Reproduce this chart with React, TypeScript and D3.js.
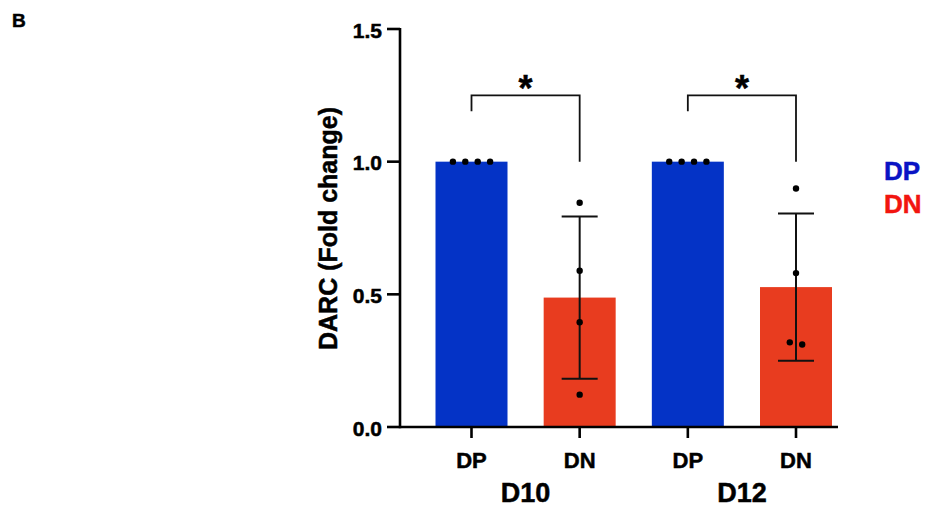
import React from "react";
import * as d3 from "d3";

const categories = ["D10-DP", "D10-DN", "D12-DP", "D12-DN"];
const tickLabels = ["DP", "DN", "DP", "DN"];
const groupLabels = ["D10", "D12"];
const groupIndex = [0, 0, 1, 1];
const cellType = ["DP", "DN", "DP", "DN"];
const points: number[][] = [
  [1.0, 1.0, 1.0, 1.0],
  [0.845, 0.589, 0.395, 0.122],
  [1.0, 1.0, 1.0, 1.0],
  [0.899, 0.58, 0.311, 0.319],
];
const showError = [false, true, false, true];
const yTicks = [0, 0.5, 1.0, 1.5];
const comparisons: [number, number, string][] = [
  [0, 1, "*"],
  [2, 3, "*"],
];
const legendItems = ["DP", "DN"];

const W = 932;
const H = 510;
const FONT = "'Liberation Sans', Arial, Helvetica, sans-serif";
const barColor: Record<string, string> = { DP: "#0433c6", DN: "#e83c1f" };
const legendColor: Record<string, string> = { DP: "#0a14c4", DN: "#f2150f" };

export default function App() {
  const y = d3.scaleLinear().domain([0, 1.5]).range([427, 29]);
  const x = d3.scalePoint<string>().domain(categories).range([471.5, 796]);
  const barW = 72;
  const axisX = 400;
  const axisEnd = 838;
  const dotR = 3.2;
  const spread = 12.4;

  const stats = points.map((p) => ({
    mean: d3.mean(p) as number,
    sd: d3.deviation(p) as number,
  }));

  const placeDots = (vals: number[], cx: number) => {
    const sorted = vals.map((v, i) => ({ v, i })).sort((a, b) => b.v - a.v);
    const groups: { v: number; i: number }[][] = [];
    sorted.forEach((d) => {
      const g = groups[groups.length - 1];
      if (g && Math.abs(y(g[g.length - 1].v) - y(d.v)) < dotR * 2.6) g.push(d);
      else groups.push([d]);
    });
    const out: { x: number; y: number }[] = [];
    groups.forEach((g) => {
      g.forEach((d, k) => {
        out.push({ x: cx + (k - (g.length - 1) / 2) * spread, y: y(d.v) });
      });
    });
    return out;
  };

  const txt = { fontFamily: FONT, fontWeight: "bold" as const, stroke: "currentColor", strokeWidth: 0.5 };

  return (
    <svg width={W} height={H} style={{ position: "absolute", left: 0, top: 0, background: "#fff" }}>
      <text x={12} y={27} {...txt} fontSize={19} fill="#000" stroke="#000">
        B
      </text>

      {categories.map((c, i) => (
        <rect
          key={c}
          x={(x(c) as number) - barW / 2}
          y={y(stats[i].mean)}
          width={barW}
          height={y(0) - y(stats[i].mean)}
          fill={barColor[cellType[i]]}
        />
      ))}

      {categories.map((c, i) =>
        showError[i] ? (
          <g key={c} stroke="#111" strokeWidth={2}>
            <line x1={x(c)} x2={x(c)} y1={y(stats[i].mean + stats[i].sd)} y2={y(stats[i].mean - stats[i].sd)} />
            <line x1={(x(c) as number) - 18} x2={(x(c) as number) + 18} y1={y(stats[i].mean + stats[i].sd)} y2={y(stats[i].mean + stats[i].sd)} />
            <line x1={(x(c) as number) - 18} x2={(x(c) as number) + 18} y1={y(stats[i].mean - stats[i].sd)} y2={y(stats[i].mean - stats[i].sd)} />
          </g>
        ) : null
      )}

      {categories.map((c, i) =>
        placeDots(points[i], x(c) as number).map((p, k) => (
          <circle key={c + k} cx={p.x} cy={p.y} r={dotR} fill="#000" />
        ))
      )}

      <g stroke="#000" strokeWidth={2.6}>
        <line x1={axisX} x2={axisX} y1={y(1.5) - 1} y2={y(0) + 1.3} />
        {yTicks.map((t) => (
          <line key={t} x1={axisX - 13} x2={axisX} y1={y(t)} y2={y(t)} />
        ))}
        <line x1={axisX} x2={axisEnd} y1={y(0)} y2={y(0)} />
        {categories.map((c) => (
          <line key={c} x1={x(c)} x2={x(c)} y1={y(0)} y2={y(0) + 11} />
        ))}
      </g>
      {yTicks.map((t) => (
        <text key={t} x={382} y={y(t) + 8.5} textAnchor="end" {...txt} fill="#000" stroke="#000" fontSize={21}>
          {d3.format(".1f")(t)}
        </text>
      ))}
      <text
        transform={`translate(337,228.5) rotate(-90)`}
        textAnchor="middle"
        {...txt}
        fill="#000"
        stroke="#000"
        fontSize={25}
        textLength={243}
        lengthAdjust="spacingAndGlyphs"
      >
        DARC (Fold change)
      </text>

      {categories.map((c, i) => (
        <text key={c} x={x(c)} y={468} textAnchor="middle" {...txt} fill="#000" stroke="#000" fontSize={22}>
          {tickLabels[i]}
        </text>
      ))}
      {groupLabels.map((g, gi) => {
        const members = categories.filter((_, i) => groupIndex[i] === gi);
        const cx = d3.mean(members.map((m) => x(m) as number)) as number;
        return (
          <text key={g} x={cx} y={502} textAnchor="middle" {...txt} fill="#000" stroke="#000" fontSize={27}>
            {g}
          </text>
        );
      })}

      {comparisons.map(([a, b, label], k) => {
        const xa = x(categories[a]) as number;
        const xb = x(categories[b]) as number;
        const yb = y(1.25);
        return (
          <g key={k}>
            <path d={`M${xa},${y(1.19)} V${yb} H${xb} V${y(1.0)}`} fill="none" stroke="#111" strokeWidth={1.8} />
            <text x={(xa + xb) / 2} y={101} textAnchor="middle" {...txt} fill="#000" stroke="#000" fontSize={36}>
              {label}
            </text>
          </g>
        );
      })}

      {legendItems.map((l, i) => (
        <text key={l} x={884} y={180 + i * 33} {...txt} fill={legendColor[l]} stroke={legendColor[l]} fontSize={26}>
          {l}
        </text>
      ))}
    </svg>
  );
}
